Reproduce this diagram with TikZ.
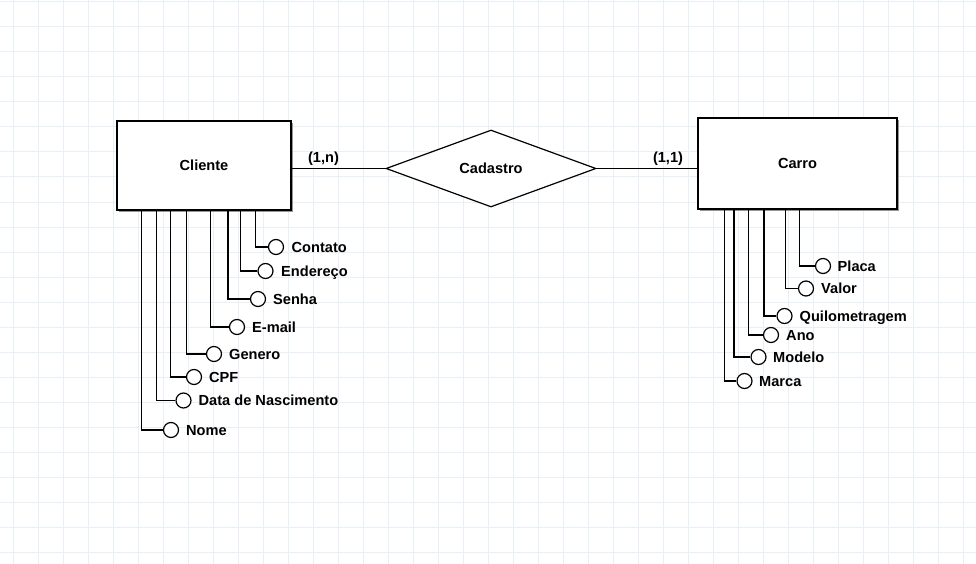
\documentclass[tikz,border=0pt]{standalone}
\usepackage{fontspec}
\setmainfont{Liberation Sans}
\usetikzlibrary{shapes.geometric,shadows}
\definecolor{gridc}{RGB}{232,240,247}
\definecolor{shadc}{RGB}{150,150,150}
\tikzset{
  lbl/.style={font=\fontsize{14.6}{17}\selectfont\bfseries, inner sep=0pt, text height=10.5pt, text depth=0pt},
  entity/.style={draw=black, line width=1.2pt, fill=white, lbl,
    drop shadow={shadow xshift=2pt, shadow yshift=-2pt, fill=shadc, opacity=1}},
  rel/.style={draw=black, line width=1.2pt, fill=white, diamond, lbl, inner sep=0pt},
  attr/.style={circle, draw=black, line width=1.2pt, fill=white, minimum size=15pt, inner sep=0pt},
  attrtext/.style={lbl, anchor=west},
  conn/.style={draw=black, line width=1.2pt},
  gridline/.style={draw=gridc, line width=1pt},
}
\begin{document}
\begin{tikzpicture}[x=1pt,y=-1pt]
\useasboundingbox (0,0) rectangle (976,564);
\fill[white] (0,0) rectangle (976,564);
\foreach \gx in {13,38,...,963} { \draw[gridline] (\gx,0) -- (\gx,564); }
\foreach \gy in {2,27,...,552} { \draw[gridline] (0,\gy) -- (976,\gy); }

% entities and relationship
\node[entity, minimum width=174pt, minimum height=89pt] (cliente) at (204,165.5) {Cliente};
\node[entity, minimum width=199pt, minimum height=91pt] (carro) at (797.5,163.5) {Carro};
\node[rel, minimum width=210pt, minimum height=77pt] (cad) at (491,168.5) {Cadastro};

\draw[conn] (cad.west) -- (cad.west -| cliente.east);
\draw[conn] (cad.east) -- (cad.east -| carro.west);
\node[lbl] (card1) at (323.5,157.5) {(1,n)};
\node[lbl] (card2) at (668,157.5) {(1,1)};

% Cliente attributes
\node[attr] (nome) at (171,430) {};
\node[attrtext] (nomet) at (186,430) {Nome};
\node[attr] (nasc) at (183.5,400.5) {};
\node[attrtext] (nasct) at (198.5,400.5) {Data de Nascimento};
\node[attr] (cpf) at (194,377) {};
\node[attrtext] (cpft) at (209,377) {CPF};
\node[attr] (gen) at (214,354) {};
\node[attrtext] (gent) at (229,354) {Genero};
\node[attr] (email) at (237,327) {};
\node[attrtext] (emailt) at (252,327) {E-mail};
\node[attr] (senha) at (258,299) {};
\node[attrtext] (senhat) at (273,299) {Senha};
\node[attr] (end) at (265.5,271) {};
\node[attrtext] (endt) at (281,271) {Endereço};
\node[attr] (cont) at (276,247) {};
\node[attrtext] (contt) at (291.5,247) {Contato};

\draw[conn] ([xshift=25pt]cliente.south west) |- (nome.west);
\draw[conn] ([xshift=40pt]cliente.south west) |- (nasc.west);
\draw[conn] ([xshift=54pt]cliente.south west) |- (cpf.west);
\draw[conn] ([xshift=70pt]cliente.south west) |- (gen.west);
\draw[conn] ([xshift=94pt]cliente.south west) |- (email.west);
\draw[conn] ([xshift=111.5pt]cliente.south west) |- (senha.west);
\draw[conn] ([xshift=124pt]cliente.south west) |- (end.west);
\draw[conn] ([xshift=139pt]cliente.south west) |- (cont.west);

% Carro attributes
\node[attr] (marca) at (744.5,381) {};
\node[attrtext] (marcat) at (759,381) {Marca};
\node[attr] (modelo) at (758.5,357) {};
\node[attrtext] (modelot) at (773,357) {Modelo};
\node[attr] (ano) at (771,335) {};
\node[attrtext] (anot) at (786,335) {Ano};
\node[attr] (quilo) at (784.5,316) {};
\node[attrtext] (quilot) at (799.5,316) {Quilometragem};
\node[attr] (valor) at (806,288.5) {};
\node[attrtext] (valort) at (821,288.5) {Valor};
\node[attr] (placa) at (823,266) {};
\node[attrtext] (placat) at (837.5,266) {Placa};

\draw[conn] ([xshift=27pt]carro.south west) |- (marca.west);
\draw[conn] ([xshift=36.5pt]carro.south west) |- (modelo.west);
\draw[conn] ([xshift=51pt]carro.south west) |- (ano.west);
\draw[conn] ([xshift=66.5pt]carro.south west) |- (quilo.west);
\draw[conn] ([xshift=88pt]carro.south west) |- (valor.west);
\draw[conn] ([xshift=102pt]carro.south west) |- (placa.west);
\end{tikzpicture}
\end{document}
